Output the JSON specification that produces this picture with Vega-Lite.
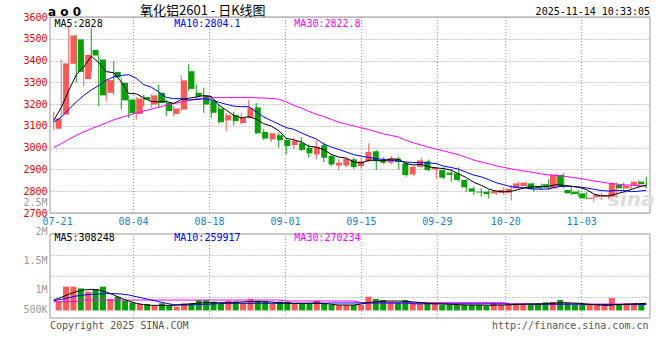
{
"$schema": "https://vega.github.io/schema/vega-lite/v6.json",
"width": 600, "height": 301,
"autosize": {"type": "none"},
"padding": {"left": 50, "top": 17, "right": 10, "bottom": 42},
"background": "white",
"config": {"view": {"stroke": null}, "text": {"font": "DejaVu Sans Mono", "fontSize": 10}},
"datasets": {
"k": [
{"d":"07-18","i":0,"o":3087,"h":3165,"l":3080,"c":3133,"v":782000,"m5":3125,"m10":3118,"m30":3001,"vm5":810000,"vm10":799000,"vm30":782000},
{"d":"07-21","i":1,"o":3152,"h":3405,"l":3140,"c":3387,"v":1040000,"m5":3185,"m10":3140,"m30":3019,"vm5":856000,"vm10":822000,"vm30":782000},
{"d":"07-22","i":2,"o":3385,"h":3560,"l":3375,"c":3515,"v":1040000,"m5":3262,"m10":3175,"m30":3038,"vm5":908000,"vm10":851000,"vm30":782000},
{"d":"07-23","i":3,"o":3497,"h":3518,"l":3300,"c":3348,"v":1011000,"m5":3335,"m10":3210,"m30":3056,"vm5":954000,"vm10":879000,"vm30":782000},
{"d":"07-24","i":4,"o":3315,"h":3449,"l":3281,"c":3426,"v":954000,"m5":3370,"m10":3240,"m30":3073,"vm5":983000,"vm10":897000,"vm30":810000},
{"d":"07-25","i":5,"o":3449,"h":3548,"l":3350,"c":3423,"v":994000,"m5":3420,"m10":3265,"m30":3087,"vm5":994000,"vm10":908000,"vm30":810000},
{"d":"07-28","i":6,"o":3405,"h":3425,"l":3190,"c":3240,"v":1040000,"m5":3390,"m10":3285,"m30":3100,"vm5":983000,"vm10":914000,"vm30":810000},
{"d":"07-29","i":7,"o":3252,"h":3312,"l":3212,"c":3310,"v":828000,"m5":3349,"m10":3310,"m30":3114,"vm5":948000,"vm10":920000,"vm30":810000},
{"d":"07-30","i":8,"o":3348,"h":3397,"l":3245,"c":3322,"v":868000,"m5":3344,"m10":3325,"m30":3128,"vm5":897000,"vm10":920000,"vm30":810000},
{"d":"07-31","i":9,"o":3298,"h":3318,"l":3175,"c":3217,"v":799000,"m5":3302,"m10":3332,"m30":3139,"vm5":839000,"vm10":914000,"vm30":810000},
{"d":"08-01","i":10,"o":3221,"h":3240,"l":3135,"c":3158,"v":764000,"m5":3249,"m10":3335,"m30":3148,"vm5":793000,"vm10":897000,"vm30":810000},
{"d":"08-04","i":11,"o":3155,"h":3232,"l":3128,"c":3226,"v":741000,"m5":3247,"m10":3319,"m30":3159,"vm5":753000,"vm10":868000,"vm30":810000},
{"d":"08-05","i":12,"o":3232,"h":3244,"l":3190,"c":3220,"v":741000,"m5":3229,"m10":3289,"m30":3168,"vm5":730000,"vm10":839000,"vm30":810000},
{"d":"08-06","i":13,"o":3198,"h":3245,"l":3183,"c":3240,"v":707000,"m5":3212,"m10":3278,"m30":3177,"vm5":718000,"vm10":810000,"vm30":810000},
{"d":"08-07","i":14,"o":3252,"h":3290,"l":3183,"c":3206,"v":753000,"m5":3210,"m10":3256,"m30":3186,"vm5":718000,"vm10":782000,"vm30":810000},
{"d":"08-08","i":15,"o":3206,"h":3221,"l":3145,"c":3168,"v":707000,"m5":3212,"m10":3231,"m30":3195,"vm5":718000,"vm10":753000,"vm30":810000},
{"d":"08-11","i":16,"o":3155,"h":3191,"l":3142,"c":3180,"v":695000,"m5":3203,"m10":3225,"m30":3203,"vm5":718000,"vm10":730000,"vm30":810000},
{"d":"08-12","i":17,"o":3175,"h":3333,"l":3168,"c":3309,"v":753000,"m5":3221,"m10":3225,"m30":3209,"vm5":730000,"vm10":724000,"vm30":810000},
{"d":"08-13","i":18,"o":3351,"h":3385,"l":3260,"c":3270,"v":753000,"m5":3227,"m10":3219,"m30":3217,"vm5":741000,"vm10":724000,"vm30":810000},
{"d":"08-14","i":19,"o":3252,"h":3290,"l":3221,"c":3237,"v":810000,"m5":3233,"m10":3221,"m30":3223,"vm5":753000,"vm10":730000,"vm30":810000},
{"d":"08-15","i":20,"o":3240,"h":3275,"l":3160,"c":3198,"v":810000,"m5":3239,"m10":3225,"m30":3227,"vm5":764000,"vm10":736000,"vm30":810000},
{"d":"08-18","i":21,"o":3214,"h":3237,"l":3137,"c":3160,"v":782000,"m5":3235,"m10":3219,"m30":3229,"vm5":764000,"vm10":741000,"vm30":810000},
{"d":"08-19","i":22,"o":3180,"h":3198,"l":3111,"c":3117,"v":741000,"m5":3196,"m10":3209,"m30":3230,"vm5":764000,"vm10":747000,"vm30":810000},
{"d":"08-20","i":23,"o":3125,"h":3160,"l":3076,"c":3149,"v":799000,"m5":3172,"m10":3199,"m30":3230,"vm5":764000,"vm10":753000,"vm30":810000},
{"d":"08-21","i":24,"o":3149,"h":3165,"l":3103,"c":3122,"v":782000,"m5":3149,"m10":3191,"m30":3230,"vm5":770000,"vm10":753000,"vm30":810000},
{"d":"08-22","i":25,"o":3113,"h":3160,"l":3107,"c":3137,"v":764000,"m5":3137,"m10":3188,"m30":3230,"vm5":776000,"vm10":753000,"vm30":810000},
{"d":"08-25","i":26,"o":3137,"h":3220,"l":3133,"c":3183,"v":828000,"m5":3142,"m10":3188,"m30":3230,"vm5":782000,"vm10":753000,"vm30":810000},
{"d":"08-26","i":27,"o":3185,"h":3205,"l":3062,"c":3066,"v":799000,"m5":3131,"m10":3164,"m30":3229,"vm5":782000,"vm10":753000,"vm30":810000},
{"d":"08-27","i":28,"o":3072,"h":3085,"l":3034,"c":3042,"v":782000,"m5":3110,"m10":3141,"m30":3228,"vm5":782000,"vm10":753000,"vm30":810000},
{"d":"08-28","i":29,"o":3038,"h":3069,"l":3026,"c":3066,"v":753000,"m5":3099,"m10":3124,"m30":3226,"vm5":776000,"vm10":753000,"vm30":810000},
{"d":"08-29","i":30,"o":3057,"h":3069,"l":3000,"c":3034,"v":782000,"m5":3078,"m10":3108,"m30":3223,"vm5":764000,"vm10":753000,"vm30":810000},
{"d":"09-01","i":31,"o":3035,"h":3046,"l":2969,"c":3008,"v":782000,"m5":3043,"m10":3092,"m30":3210,"vm5":759000,"vm10":753000,"vm30":793000},
{"d":"09-02","i":32,"o":3012,"h":3046,"l":2992,"c":3031,"v":741000,"m5":3036,"m10":3084,"m30":3194,"vm5":753000,"vm10":753000,"vm30":793000},
{"d":"09-03","i":33,"o":3020,"h":3049,"l":2985,"c":2990,"v":741000,"m5":3026,"m10":3068,"m30":3182,"vm5":753000,"vm10":753000,"vm30":793000},
{"d":"09-04","i":34,"o":3000,"h":3015,"l":2954,"c":2974,"v":741000,"m5":3007,"m10":3053,"m30":3167,"vm5":753000,"vm10":753000,"vm30":793000},
{"d":"09-05","i":35,"o":2969,"h":3035,"l":2946,"c":3005,"v":799000,"m5":3002,"m10":3040,"m30":3153,"vm5":759000,"vm10":753000,"vm30":793000},
{"d":"09-08","i":36,"o":3011,"h":3023,"l":2934,"c":2954,"v":741000,"m5":2991,"m10":3017,"m30":3143,"vm5":753000,"vm10":753000,"vm30":793000},
{"d":"09-09","i":37,"o":2962,"h":2969,"l":2915,"c":2923,"v":724000,"m5":2969,"m10":3003,"m30":3130,"vm5":736000,"vm10":759000,"vm30":793000},
{"d":"09-10","i":38,"o":2918,"h":2946,"l":2897,"c":2931,"v":724000,"m5":2957,"m10":2992,"m30":3117,"vm5":724000,"vm10":759000,"vm30":793000},
{"d":"09-11","i":39,"o":2918,"h":2954,"l":2912,"c":2949,"v":724000,"m5":2952,"m10":2980,"m30":3108,"vm5":724000,"vm10":759000,"vm30":793000},
{"d":"09-12","i":40,"o":2946,"h":2954,"l":2903,"c":2911,"v":724000,"m5":2934,"m10":2968,"m30":3100,"vm5":724000,"vm10":759000,"vm30":793000},
{"d":"09-15","i":41,"o":2915,"h":2954,"l":2903,"c":2937,"v":724000,"m5":2930,"m10":2961,"m30":3091,"vm5":741000,"vm10":759000,"vm30":764000},
{"d":"09-16","i":42,"o":2938,"h":3020,"l":2934,"c":2980,"v":868000,"m5":2942,"m10":2955,"m30":3083,"vm5":764000,"vm10":759000,"vm30":764000},
{"d":"09-17","i":43,"o":2983,"h":2989,"l":2897,"c":2938,"v":828000,"m5":2943,"m10":2950,"m30":3073,"vm5":782000,"vm10":759000,"vm30":764000},
{"d":"09-18","i":44,"o":2946,"h":2958,"l":2923,"c":2931,"v":810000,"m5":2939,"m10":2946,"m30":3063,"vm5":793000,"vm10":759000,"vm30":764000},
{"d":"09-19","i":45,"o":2931,"h":2962,"l":2923,"c":2952,"v":782000,"m5":2948,"m10":2941,"m30":3056,"vm5":793000,"vm10":759000,"vm30":764000},
{"d":"09-22","i":46,"o":2949,"h":2957,"l":2900,"c":2934,"v":770000,"m5":2947,"m10":2939,"m30":3048,"vm5":793000,"vm10":759000,"vm30":764000},
{"d":"09-23","i":47,"o":2928,"h":2934,"l":2866,"c":2874,"v":810000,"m5":2926,"m10":2934,"m30":3033,"vm5":787000,"vm10":759000,"vm30":764000},
{"d":"09-24","i":48,"o":2877,"h":2918,"l":2869,"c":2912,"v":753000,"m5":2921,"m10":2932,"m30":3022,"vm5":776000,"vm10":745000,"vm30":764000},
{"d":"09-25","i":49,"o":2912,"h":2954,"l":2908,"c":2942,"v":753000,"m5":2923,"m10":2931,"m30":3012,"vm5":764000,"vm10":745000,"vm30":764000},
{"d":"09-26","i":50,"o":2937,"h":2946,"l":2892,"c":2897,"v":753000,"m5":2912,"m10":2930,"m30":3002,"vm5":753000,"vm10":745000,"vm30":764000},
{"d":"09-29","i":51,"o":2900,"h":2912,"l":2858,"c":2908,"v":753000,"m5":2907,"m10":2927,"m30":2993,"vm5":747000,"vm10":745000,"vm30":764000},
{"d":"09-30","i":52,"o":2897,"h":2910,"l":2855,"c":2862,"v":724000,"m5":2904,"m10":2915,"m30":2985,"vm5":741000,"vm10":745000,"vm30":764000},
{"d":"10-09","i":53,"o":2885,"h":2901,"l":2844,"c":2875,"v":724000,"m5":2897,"m10":2909,"m30":2976,"vm5":736000,"vm10":745000,"vm30":764000},
{"d":"10-10","i":54,"o":2882,"h":2910,"l":2844,"c":2852,"v":724000,"m5":2879,"m10":2901,"m30":2967,"vm5":730000,"vm10":745000,"vm30":764000},
{"d":"10-13","i":55,"o":2852,"h":2855,"l":2798,"c":2818,"v":724000,"m5":2863,"m10":2887,"m30":2956,"vm5":724000,"vm10":745000,"vm30":764000},
{"d":"10-14","i":56,"o":2813,"h":2821,"l":2783,"c":2798,"v":724000,"m5":2841,"m10":2874,"m30":2943,"vm5":724000,"vm10":745000,"vm30":764000},
{"d":"10-15","i":57,"o":2798,"h":2813,"l":2775,"c":2794,"v":724000,"m5":2827,"m10":2866,"m30":2934,"vm5":724000,"vm10":745000,"vm30":764000},
{"d":"10-16","i":58,"o":2798,"h":2806,"l":2767,"c":2787,"v":707000,"m5":2810,"m10":2853,"m30":2926,"vm5":718000,"vm10":745000,"vm30":764000},
{"d":"10-17","i":59,"o":2790,"h":2806,"l":2783,"c":2801,"v":753000,"m5":2800,"m10":2839,"m30":2917,"vm5":724000,"vm10":745000,"vm30":764000},
{"d":"10-20","i":60,"o":2793,"h":2818,"l":2783,"c":2806,"v":724000,"m5":2797,"m10":2830,"m30":2909,"vm5":724000,"vm10":745000,"vm30":764000},
{"d":"10-21","i":61,"o":2793,"h":2829,"l":2757,"c":2810,"v":724000,"m5":2800,"m10":2820,"m30":2903,"vm5":730000,"vm10":738000,"vm30":741000},
{"d":"10-22","i":62,"o":2813,"h":2844,"l":2806,"c":2836,"v":753000,"m5":2808,"m10":2818,"m30":2896,"vm5":736000,"vm10":738000,"vm30":741000},
{"d":"10-23","i":63,"o":2824,"h":2844,"l":2821,"c":2839,"v":724000,"m5":2818,"m10":2814,"m30":2891,"vm5":741000,"vm10":738000,"vm30":741000},
{"d":"10-24","i":64,"o":2836,"h":2839,"l":2798,"c":2809,"v":724000,"m5":2820,"m10":2810,"m30":2886,"vm5":741000,"vm10":738000,"vm30":741000},
{"d":"10-27","i":65,"o":2824,"h":2836,"l":2806,"c":2813,"v":753000,"m5":2821,"m10":2809,"m30":2879,"vm5":741000,"vm10":738000,"vm30":741000},
{"d":"10-28","i":66,"o":2832,"h":2855,"l":2806,"c":2816,"v":770000,"m5":2823,"m10":2811,"m30":2875,"vm5":753000,"vm10":738000,"vm30":741000},
{"d":"10-29","i":67,"o":2813,"h":2882,"l":2809,"c":2875,"v":776000,"m5":2830,"m10":2819,"m30":2873,"vm5":759000,"vm10":738000,"vm30":741000},
{"d":"10-30","i":68,"o":2875,"h":2882,"l":2813,"c":2821,"v":810000,"m5":2827,"m10":2823,"m30":2869,"vm5":764000,"vm10":738000,"vm30":741000},
{"d":"10-31","i":69,"o":2806,"h":2818,"l":2783,"c":2790,"v":753000,"m5":2823,"m10":2822,"m30":2864,"vm5":759000,"vm10":738000,"vm30":741000},
{"d":"11-03","i":70,"o":2798,"h":2806,"l":2775,"c":2787,"v":724000,"m5":2818,"m10":2820,"m30":2860,"vm5":753000,"vm10":738000,"vm30":741000},
{"d":"11-04","i":71,"o":2790,"h":2798,"l":2763,"c":2767,"v":724000,"m5":2808,"m10":2815,"m30":2854,"vm5":741000,"vm10":732000,"vm30":741000},
{"d":"11-05","i":72,"o":2764,"h":2783,"l":2752,"c":2770,"v":724000,"m5":2787,"m10":2809,"m30":2847,"vm5":730000,"vm10":732000,"vm30":741000},
{"d":"11-06","i":73,"o":2772,"h":2793,"l":2760,"c":2783,"v":724000,"m5":2779,"m10":2803,"m30":2842,"vm5":724000,"vm10":732000,"vm30":741000},
{"d":"11-07","i":74,"o":2775,"h":2790,"l":2763,"c":2783,"v":724000,"m5":2778,"m10":2801,"m30":2837,"vm5":718000,"vm10":732000,"vm30":741000},
{"d":"11-10","i":75,"o":2775,"h":2839,"l":2772,"c":2836,"v":845000,"m5":2788,"m10":2803,"m30":2833,"vm5":730000,"vm10":732000,"vm30":741000},
{"d":"11-11","i":76,"o":2829,"h":2839,"l":2806,"c":2813,"v":724000,"m5":2797,"m10":2803,"m30":2829,"vm5":736000,"vm10":732000,"vm30":741000},
{"d":"11-12","i":77,"o":2813,"h":2836,"l":2806,"c":2826,"v":753000,"m5":2808,"m10":2798,"m30":2828,"vm5":741000,"vm10":732000,"vm30":741000},
{"d":"11-13","i":78,"o":2829,"h":2852,"l":2813,"c":2844,"v":753000,"m5":2820,"m10":2800,"m30":2825,"vm5":747000,"vm10":732000,"vm30":741000},
{"d":"11-14","i":79,"o":2844,"h":2867,"l":2813,"c":2832,"v":724000,"m5":2828,"m10":2804.1,"m30":2822.8,"vm5":752000,"vm10":732000,"vm30":741000}
],
"dates": [
{"d":"07-21","i":1},{"d":"08-04","i":11},{"d":"08-18","i":21},{"d":"09-01","i":31},
{"d":"09-15","i":41},{"d":"09-29","i":51},{"d":"10-20","i":60},{"d":"11-03","i":70}
]
},
"layer": [
{"data": {"values": [{}]},
 "mark": {"type": "rect", "fillOpacity": 0, "stroke": "#999999", "strokeWidth": 1},
 "encoding": {
  "x": {"datum": -0.5, "type": "quantitative", "scale": {"domain": [-0.5, 79.5], "nice": false, "zero": false}, "axis": null},
  "x2": {"datum": 79.5},
  "y": {"datum": 2700, "type": "quantitative", "scale": {"domain": [2217.86, 3600], "nice": false, "zero": false},
        "axis": {"orient": "left", "values": [2700,2800,2900,3000,3100,3200,3300,3400,3500,3600], "format": "d", "grid": true, "gridDash": [1,2], "gridColor": "#999999", "domain": false, "ticks": false, "labelColor": "#ee0000", "labelFont": "DejaVu Sans Mono", "labelFontSize": 10, "labelPadding": 3, "title": null}},
  "y2": {"datum": 3600}}},
{"data": {"values": [{}]},
 "mark": {"type": "rect", "fillOpacity": 0, "stroke": "#999999", "strokeWidth": 1},
 "encoding": {
  "x": {"datum": -0.5, "type": "quantitative", "scale": {"domain": [-0.5, 79.5], "nice": false, "zero": false}, "axis": null},
  "x2": {"datum": 79.5},
  "y": {"datum": 0, "type": "quantitative", "scale": {"domain": [0, 14.3333], "nice": false, "zero": false},
        "axis": {"orient": "left", "values": [1,2,3], "grid": true, "gridDash": [1,2], "gridColor": "#999999", "labels": false, "domain": false, "ticks": false, "title": null}},
  "y2": {"datum": 4}}},
{"data": {"name": "dates"},
 "transform": [{"filter": "datum.i > 5"}],
 "mark": {"type": "rule", "strokeDash": [1,2], "color": "#999999", "strokeWidth": 1},
 "encoding": {
  "x": {"field": "i", "type": "quantitative", "scale": {"domain": [0, 79], "nice": false, "zero": false}, "axis": null},
  "y": {"datum": 2700, "type": "quantitative", "scale": {"domain": [2217.86, 3600], "nice": false, "zero": false}, "axis": null},
  "y2": {"datum": 3600}}},
{"data": {"name": "dates"},
 "transform": [{"filter": "datum.i > 5"}],
 "mark": {"type": "rule", "strokeDash": [1,2], "color": "#999999", "strokeWidth": 1},
 "encoding": {
  "x": {"field": "i", "type": "quantitative", "scale": {"domain": [0, 79], "nice": false, "zero": false}, "axis": null},
  "y": {"datum": 0, "type": "quantitative", "scale": {"domain": [0, 14.3333], "nice": false, "zero": false}, "axis": null},
  "y2": {"datum": 4}}},
{"data": {"name": "dates"},
 "mark": {"type": "text", "dy": 9, "baseline": "middle", "align": "center", "color": "#1a80d0", "font": "DejaVu Sans Mono", "fontSize": 10},
 "encoding": {
  "x": {"field": "i", "type": "quantitative", "scale": {"domain": [0, 79], "nice": false, "zero": false}, "axis": null},
  "y": {"datum": 2700, "type": "quantitative", "scale": {"domain": [2217.86, 3600], "nice": false, "zero": false}, "axis": null},
  "text": {"field": "d"}}},
{"data": {"values": [{}]},
 "mark": {"type": "text", "fontSize": 20, "fontWeight": "bold", "fontStyle": "italic", "color": "#dddddd", "font": "DejaVu Sans", "baseline": "middle", "align": "center"},
 "encoding": {
  "x": {"datum": 77, "type": "quantitative", "scale": {"domain": [-0.5, 79.5], "nice": false, "zero": false}, "axis": null},
  "y": {"datum": 2760, "type": "quantitative", "scale": {"domain": [2217.86, 3600], "nice": false, "zero": false}, "axis": null},
  "text": {"value": "sina"}}},
{"data": {"name": "k"},
 "mark": {"type": "rule", "strokeWidth": 1},
 "encoding": {
  "x": {"field": "i", "type": "quantitative", "scale": {"domain": [-0.5, 79.5], "nice": false, "zero": false}, "axis": null},
  "y": {"field": "l", "type": "quantitative", "scale": {"domain": [2217.86, 3600], "nice": false, "zero": false}, "axis": null},
  "y2": {"field": "h"},
  "color": {"condition": {"test": "datum.c >= datum.o", "value": "#f85a5a"}, "value": "#0a9f0a"}}},
{"data": {"name": "k"},
 "mark": {"type": "bar", "size": 6},
 "encoding": {
  "x": {"field": "i", "type": "quantitative", "scale": {"domain": [-0.5, 79.5], "nice": false, "zero": false}, "axis": null},
  "y": {"field": "o", "type": "quantitative", "scale": {"domain": [2217.86, 3600], "nice": false, "zero": false}, "axis": null},
  "y2": {"field": "c"},
  "color": {"condition": {"test": "datum.c >= datum.o", "value": "#f85a5a"}, "value": "#0a9f0a"}}},
{"data": {"name": "k"},
 "mark": {"type": "line", "strokeWidth": 1, "color": "#ff00ff"},
 "encoding": {
  "x": {"field": "i", "type": "quantitative", "scale": {"domain": [-0.5, 79.5], "nice": false, "zero": false}, "axis": null},
  "y": {"field": "m30", "type": "quantitative", "scale": {"domain": [2217.86, 3600], "nice": false, "zero": false}, "axis": null}}},
{"data": {"name": "k"},
 "mark": {"type": "line", "strokeWidth": 1, "color": "#0000ff"},
 "encoding": {
  "x": {"field": "i", "type": "quantitative", "scale": {"domain": [-0.5, 79.5], "nice": false, "zero": false}, "axis": null},
  "y": {"field": "m10", "type": "quantitative", "scale": {"domain": [2217.86, 3600], "nice": false, "zero": false}, "axis": null}}},
{"data": {"name": "k"},
 "mark": {"type": "line", "strokeWidth": 1, "color": "#000000"},
 "encoding": {
  "x": {"field": "i", "type": "quantitative", "scale": {"domain": [-0.5, 79.5], "nice": false, "zero": false}, "axis": null},
  "y": {"field": "m5", "type": "quantitative", "scale": {"domain": [2217.86, 3600], "nice": false, "zero": false}, "axis": null}}},
{"data": {"name": "k"},
 "mark": {"type": "bar", "size": 6},
 "encoding": {
  "x": {"field": "i", "type": "quantitative", "scale": {"domain": [-0.5, 79.5], "nice": false, "zero": false}, "axis": null},
  "y": {"field": "v", "type": "quantitative", "scale": {"domain": [500000, 5689655], "nice": false, "zero": false},
        "axis": {"orient": "left", "values": [500000,1000000,1500000,2000000,2500000], "labelExpr": "datum.value >= 1000000 ? (datum.value/1000000) + 'M' : (datum.value/1000) + 'K'", "grid": false, "domain": false, "ticks": false, "labelColor": "#999999", "labelFont": "DejaVu Sans Mono", "labelFontSize": 10, "labelPadding": 3, "labelFlush": 1, "labelFlushOffset": -4, "title": null}},
  "y2": {"datum": 630000},
  "color": {"condition": {"test": "datum.c >= datum.o", "value": "#f85a5a"}, "value": "#0a9f0a"}}},
{"data": {"name": "k"},
 "mark": {"type": "line", "strokeWidth": 1, "color": "#ff00ff"},
 "encoding": {
  "x": {"field": "i", "type": "quantitative", "scale": {"domain": [-0.5, 79.5], "nice": false, "zero": false}, "axis": null},
  "y": {"field": "vm30", "type": "quantitative", "scale": {"domain": [500000, 5689655], "nice": false, "zero": false}, "axis": null}}},
{"data": {"name": "k"},
 "mark": {"type": "line", "strokeWidth": 1, "color": "#0000ff"},
 "encoding": {
  "x": {"field": "i", "type": "quantitative", "scale": {"domain": [-0.5, 79.5], "nice": false, "zero": false}, "axis": null},
  "y": {"field": "vm10", "type": "quantitative", "scale": {"domain": [500000, 5689655], "nice": false, "zero": false}, "axis": null}}},
{"data": {"name": "k"},
 "mark": {"type": "line", "strokeWidth": 1, "color": "#000000"},
 "encoding": {
  "x": {"field": "i", "type": "quantitative", "scale": {"domain": [-0.5, 79.5], "nice": false, "zero": false}, "axis": null},
  "y": {"field": "vm5", "type": "quantitative", "scale": {"domain": [500000, 5689655], "nice": false, "zero": false}, "axis": null}}},
{"data": {"values": [{"t": "MA5:2828", "p": 0.1, "c": "black"}, {"t": "MA10:2804.1", "p": 16.07, "c": "blue"}, {"t": "MA30:2822.8", "p": 32.08, "c": "magenta"}]},
 "mark": {"type": "text", "align": "left", "baseline": "middle", "dy": 6.5, "font": "DejaVu Sans Mono", "fontSize": 10},
 "encoding": {
  "x": {"field": "p", "type": "quantitative", "scale": {"domain": [-0.5, 79.5], "nice": false, "zero": false}, "axis": null},
  "y": {"datum": 3600, "type": "quantitative", "scale": {"domain": [2217.86, 3600], "nice": false, "zero": false}, "axis": null},
  "text": {"field": "t"},
  "color": {"field": "c", "type": "nominal", "scale": {"domain": ["black", "blue", "magenta"], "range": ["#000000", "#0000ff", "#ff00ff"]}, "legend": null}}},
{"data": {"values": [{"t": "MA5:308248", "p": 0.1, "c": "black"}, {"t": "MA10:259917", "p": 16.07, "c": "blue"}, {"t": "MA30:270234", "p": 32.08, "c": "magenta"}]},
 "mark": {"type": "text", "align": "left", "baseline": "middle", "dy": 4.5, "font": "DejaVu Sans Mono", "fontSize": 10},
 "encoding": {
  "x": {"field": "p", "type": "quantitative", "scale": {"domain": [-0.5, 79.5], "nice": false, "zero": false}, "axis": null},
  "y": {"datum": 4, "type": "quantitative", "scale": {"domain": [0, 14.3333], "nice": false, "zero": false}, "axis": null},
  "text": {"field": "t"},
  "color": {"field": "c", "type": "nominal", "scale": {"domain": ["black", "blue", "magenta"], "range": ["#000000", "#0000ff", "#ff00ff"]}, "legend": null}}},
{"data": {"values": [{}]},
 "mark": {"type": "text", "align": "left", "baseline": "middle", "dy": -5.5, "font": "DejaVu Sans", "fontSize": 12, "fontWeight": "bold", "color": "#000000"},
 "encoding": {
  "x": {"datum": -0.77, "type": "quantitative", "scale": {"domain": [-0.5, 79.5], "nice": false, "zero": false}, "axis": null},
  "y": {"datum": 3600, "type": "quantitative", "scale": {"domain": [2217.86, 3600], "nice": false, "zero": false}, "axis": null},
  "text": {"value": "a o 0"}}},
{"data": {"values": [{}]},
 "mark": {"type": "text", "align": "left", "baseline": "middle", "dy": -6.5, "font": "Noto Sans CJK SC", "fontSize": 13, "color": "#000000"},
 "encoding": {
  "x": {"datum": 11.5, "type": "quantitative", "scale": {"domain": [-0.5, 79.5], "nice": false, "zero": false}, "axis": null},
  "y": {"datum": 3600, "type": "quantitative", "scale": {"domain": [2217.86, 3600], "nice": false, "zero": false}, "axis": null},
  "text": {"value": "氧化铝2601  -  日K线图"}}},
{"data": {"values": [{}]},
 "mark": {"type": "text", "align": "right", "baseline": "middle", "dy": -5, "font": "DejaVu Sans Mono", "fontSize": 10, "color": "#000000"},
 "encoding": {
  "x": {"datum": 79.5, "type": "quantitative", "scale": {"domain": [-0.5, 79.5], "nice": false, "zero": false}, "axis": null},
  "y": {"datum": 3600, "type": "quantitative", "scale": {"domain": [2217.86, 3600], "nice": false, "zero": false}, "axis": null},
  "text": {"value": "2025-11-14 10:33:05"}}},
{"data": {"values": [{}]},
 "mark": {"type": "text", "align": "left", "baseline": "middle", "dy": 7.5, "font": "DejaVu Sans Mono", "fontSize": 10, "color": "#555555"},
 "encoding": {
  "x": {"datum": -0.5, "type": "quantitative", "scale": {"domain": [-0.5, 79.5], "nice": false, "zero": false}, "axis": null},
  "y": {"datum": 0, "type": "quantitative", "scale": {"domain": [0, 14.3333], "nice": false, "zero": false}, "axis": null},
  "text": {"value": "Copyright 2025 SINA.COM"}}},
{"data": {"values": [{}]},
 "mark": {"type": "text", "align": "right", "baseline": "middle", "dy": 7.5, "font": "DejaVu Sans Mono", "fontSize": 10, "color": "#555555"},
 "encoding": {
  "x": {"datum": 79.3, "type": "quantitative", "scale": {"domain": [-0.5, 79.5], "nice": false, "zero": false}, "axis": null},
  "y": {"datum": 0, "type": "quantitative", "scale": {"domain": [0, 14.3333], "nice": false, "zero": false}, "axis": null},
  "text": {"value": "http://finance.sina.com.cn"}}}
],
"resolve": {"scale": {"x": "independent", "y": "independent"}}
}
